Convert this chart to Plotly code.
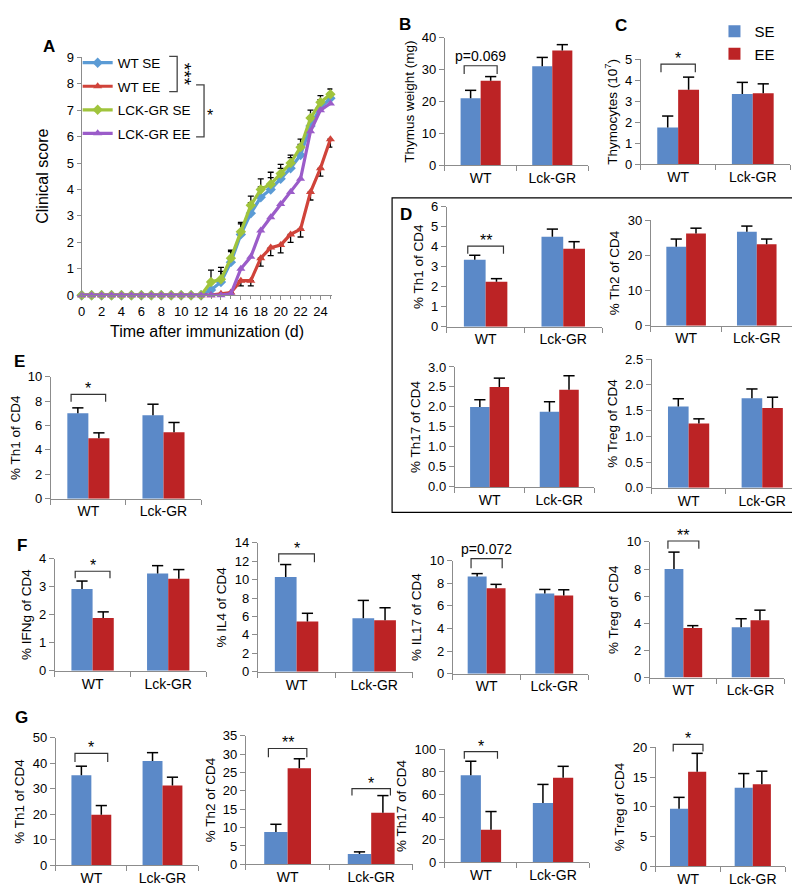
import plotly.graph_objects as go

# ---------------- DATA ----------------
days = list(range(26))
wt_se = [0] * 13 + [0.2, 0.5, 1.25, 2.3, 3.1, 3.7, 4.0, 4.4, 4.8, 5.3, 6.4, 7.1, 7.45]
wt_se_err = [0] * 13 + [0.3, 0.4, 0.4, 0.4, 0.4, 0.4, 0.45, 0.4, 0.4, 0.4, 0.35, 0.3, 0.2]
wt_ee = [0] * 14 + [0.05, 0.1, 0.55, 0.55, 1.4, 1.8, 1.9, 2.3, 2.5, 3.9, 4.8, 5.9]
wt_ee_err = [0] * 14 + [0.05, 0.1, 0.2, 0.2, 0.3, 0.3, 0.3, 0.3, 0.3, 0.3, 0.3, 0.3]
lck_se = [0] * 13 + [0.5, 0.6, 1.4, 2.4, 3.4, 4.0, 4.2, 4.6, 5.0, 5.6, 6.7, 7.3, 7.6]
lck_se_err = [0] * 13 + [0.45, 0.45, 0.3, 0.35, 0.35, 0.4, 0.45, 0.35, 0.3, 0.3, 0.3, 0.25, 0.2]
lck_ee = [0] * 15 + [0.05, 1.0, 1.45, 2.45, 2.95, 3.45, 3.9, 4.4, 6.2, 7.0, 7.25]

groups = ["WT", "Lck-GR"]

thymus_se, thymus_se_err = [21.0, 31.0], [2.5, 2.8]
thymus_ee, thymus_ee_err = [26.5, 36.0], [1.3, 1.8]
thymocytes_se, thymocytes_se_err = [1.75, 3.35], [0.55, 0.55]
thymocytes_ee, thymocytes_ee_err = [3.55, 3.38], [0.6, 0.45]
d_th1_se, d_th1_se_err = [3.35, 4.5], [0.22, 0.38]
d_th1_ee, d_th1_ee_err = [2.25, 3.9], [0.15, 0.35]
d_th2_se, d_th2_se_err = [22.5, 26.8], [2.2, 1.6]
d_th2_ee, d_th2_ee_err = [26.3, 23.2], [1.5, 1.5]
d_th17_se, d_th17_se_err = [2.0, 1.88], [0.18, 0.25]
d_th17_ee, d_th17_ee_err = [2.5, 2.43], [0.22, 0.35]
d_treg_se, d_treg_se_err = [1.58, 1.74], [0.15, 0.18]
d_treg_ee, d_treg_ee_err = [1.25, 1.55], [0.09, 0.21]
e_th1_se, e_th1_se_err = [7.0, 6.85], [0.45, 0.9]
e_th1_ee, e_th1_ee_err = [4.95, 5.45], [0.45, 0.8]
f_ifng_se, f_ifng_se_err = [2.92, 3.47], [0.28, 0.28]
f_ifng_ee, f_ifng_ee_err = [1.88, 3.28], [0.22, 0.33]
f_il4_se, f_il4_se_err = [10.3, 5.8], [1.35, 1.95]
f_il4_ee, f_il4_ee_err = [5.45, 5.6], [0.9, 1.35]
f_il17_se, f_il17_se_err = [8.6, 7.1], [0.25, 0.35]
f_il17_ee, f_il17_ee_err = [7.55, 6.92], [0.35, 0.5]
f_treg_se, f_treg_se_err = [8.0, 3.72], [1.25, 0.62]
f_treg_ee, f_treg_ee_err = [3.65, 4.22], [0.18, 0.75]
g_th1_se, g_th1_se_err = [35.3, 40.8], [3.5, 3.3]
g_th1_ee, g_th1_ee_err = [19.8, 31.2], [3.6, 3.3]
g_th2_se, g_th2_se_err = [8.8, 2.8], [2.1, 0.6]
g_th2_ee, g_th2_ee_err = [26.1, 14.0], [2.6, 4.7]
g_th17_se, g_th17_se_err = [77.0, 52.5], [12.5, 16.5]
g_th17_ee, g_th17_ee_err = [29.0, 75.0], [16.0, 10.0]
g_treg_se, g_treg_se_err = [9.7, 13.2], [1.9, 2.4]
g_treg_ee, g_treg_ee_err = [15.9, 13.8], [3.1, 2.2]

# ---------------- STYLE / LAYOUT ----------------
W, H = 800, 887
FONT = "Liberation Sans, Arial, sans-serif"
AXIS = "#8C8C8C"
BAR_BLUE = "#5B89C8"
BAR_RED = "#BC2325"
L_BLUE = "#5B9BD5"
L_RED = "#D0433A"
L_GREEN = "#A0C43C"
L_PURPLE = "#9B5CC9"
BW = 0.28


def px_x(p):
    return p / W


def px_y(p):
    return 1 - p / H


panels = {
    2: dict(x=(435, 579), y=(23, 153), ymax=40, dtick=10, title="Thymus weight (mg)",
            data=(thymus_se, thymus_se_err, thymus_ee, thymus_ee_err)),
    3: dict(x=(632, 782), y=(45, 152), ymax=5, dtick=1, title="Thymocytes (10<sup>7</sup>)",
            data=(thymocytes_se, thymocytes_se_err, thymocytes_ee, thymocytes_ee_err)),
    4: dict(x=(437, 593), y=(195, 317), ymax=6, dtick=1, title="% Th1 of CD4",
            data=(d_th1_se, d_th1_se_err, d_th1_ee, d_th1_ee_err)),
    5: dict(x=(642, 784), y=(209, 316), ymax=30, dtick=10, title="% Th2 of CD4",
            data=(d_th2_se, d_th2_se_err, d_th2_ee, d_th2_ee_err)),
    6: dict(x=(445, 585), y=(358, 480), ymax=3, dtick=0.5, fmt=".1f", title="% Th17 of CD4",
            data=(d_th17_se, d_th17_se_err, d_th17_ee, d_th17_ee_err)),
    7: dict(x=(643, 791), y=(350, 481), ymax=2.5, dtick=0.5, fmt=".1f", title="% Treg of CD4",
            data=(d_treg_se, d_treg_se_err, d_treg_ee, d_treg_ee_err)),
    8: dict(x=(39, 190), y=(368, 492), ymax=10, dtick=2, title="% Th1 of CD4",
            data=(e_th1_se, e_th1_se_err, e_th1_ee, e_th1_ee_err)),
    9: dict(x=(43, 195), y=(553, 667), ymax=4, dtick=1, title="% IFNg of CD4",
            data=(f_ifng_se, f_ifng_se_err, f_ifng_ee, f_ifng_ee_err)),
    10: dict(x=(247, 403), y=(537, 668), ymax=14, dtick=2, title="% IL4 of CD4",
             data=(f_il4_se, f_il4_se_err, f_il4_ee, f_il4_ee_err)),
    11: dict(x=(443, 579), y=(555, 670), ymax=10, dtick=2, title="% IL17 of CD4",
             data=(f_il17_se, f_il17_se_err, f_il17_ee, f_il17_ee_err)),
    12: dict(x=(641, 776), y=(536, 674), ymax=10, dtick=2, title="% Treg of CD4",
             data=(f_treg_se, f_treg_se_err, f_treg_ee, f_treg_ee_err)),
    13: dict(x=(44, 187), y=(735, 865), ymax=50, dtick=10, title="% Th1 of CD4",
             data=(g_th1_se, g_th1_se_err, g_th1_ee, g_th1_ee_err)),
    14: dict(x=(235, 403), y=(733, 864), ymax=35, dtick=5, title="% Th2 of CD4",
             data=(g_th2_se, g_th2_se_err, g_th2_ee, g_th2_ee_err)),
    15: dict(x=(435, 580), y=(747, 862), ymax=100, dtick=20, title="% Th17 of CD4",
             data=(g_th17_se, g_th17_se_err, g_th17_ee, g_th17_ee_err)),
    16: dict(x=(647, 777), y=(745, 866), ymax=20, dtick=5, title="% Treg of CD4",
             data=(g_treg_se, g_treg_se_err, g_treg_ee, g_treg_ee_err)),
}

# significance brackets: (panel, group index, bar level, leg level, label)
brackets = [
    (2, 0, 31.2, 28.6, "p=0.069"),
    (3, 0, 4.77, 4.38, "*"),
    (4, 0, 4.03, 3.65, "**"),
    (8, 0, 8.55, 7.96, "*"),
    (9, 0, 3.55, 3.3, "*"),
    (10, 0, 12.8, 11.9, "*"),
    (11, 0, 10.17, 9.33, "p=0.072"),
    (12, 0, 10.07, 9.5, "**"),
    (13, 0, 43.8, 40.4, "*"),
    (14, 0, 31.5, 29.1, "**"),
    (14, 1, 20.6, 18.7, "*"),
    (15, 0, 98.0, 91.6, "*"),
    (16, 0, 20.5, 19.3, "*"),
]

fig = go.Figure()
layout = dict(
    width=W, height=H, margin=dict(l=0, r=0, t=0, b=0),
    paper_bgcolor="white", plot_bgcolor="white",
    font=dict(family=FONT, color="black", size=13),
    barmode="overlay", showlegend=True,
    shapes=[], annotations=[],
)

# ---------------- PANEL A ----------------
line_series = [
    ("WT SE", wt_se, wt_se_err, None, L_BLUE, "diamond"),
    ("WT EE", wt_ee, None, wt_ee_err, L_RED, "triangle-up"),
    ("LCK-GR SE", lck_se, lck_se_err, None, L_GREEN, "diamond"),
    ("LCK-GR EE", lck_ee, None, None, L_PURPLE, "triangle-up"),
]
for name, vals, up, down, col, sym in line_series:
    zeros = [0] * len(vals)
    err = None
    if up is not None or down is not None:
        err = dict(type="data", symmetric=False,
                   array=up if up is not None else zeros,
                   arrayminus=down if down is not None else zeros,
                   color="black", thickness=1.3, width=3)
    fig.add_trace(go.Scatter(
        x=days, y=vals, name=name, mode="lines+markers", legendgroup=name,
        line=dict(color=col, width=3.2),
        marker=dict(symbol=sym, size=8, color=col),
        error_y=err, xaxis="x", yaxis="y", legend="legend", cliponaxis=False,
    ))

layout["xaxis"] = dict(
    domain=[px_x(70), px_x(322)], range=[0, 25.2], anchor="y",
    showline=True, linecolor=AXIS, linewidth=1, showgrid=False, zeroline=False,
    tickmode="linear", tick0=0, dtick=2, ticks="outside", ticklen=4, tickcolor=AXIS,
    minor=dict(dtick=1, ticks="outside", ticklen=3, tickcolor=AXIS),
    tickfont=dict(size=13),
    title=dict(text="Time after immunization (d)", font=dict(size=16), standoff=8),
)
layout["yaxis"] = dict(
    domain=[px_y(285), px_y(43)], range=[0, 9], anchor="x",
    showline=True, linecolor=AXIS, linewidth=1, showgrid=False, zeroline=False,
    tickmode="linear", tick0=0, dtick=1, ticks="outside", ticklen=4, tickcolor=AXIS,
    tickfont=dict(size=13),
    title=dict(text="Clinical score", font=dict(size=16), standoff=14),
)
layout["legend"] = dict(
    x=px_x(66), y=px_y(33), xanchor="left", yanchor="top",
    font=dict(size=13.5), bgcolor="rgba(0,0,0,0)", itemwidth=30, tracegroupgap=3,
)

# brackets in panel A (paper coordinates)
def bracket_v(xv, xl, yt, yb):
    return dict(type="path", xref="paper", yref="paper",
                path=f"M {px_x(xl)},{px_y(yt)} L {px_x(xv)},{px_y(yt)} "
                     f"L {px_x(xv)},{px_y(yb)} L {px_x(xl)},{px_y(yb)}",
                line=dict(color="#444", width=1.3))

layout["shapes"].append(bracket_v(166, 158, 42, 78))
layout["shapes"].append(bracket_v(193, 185, 71, 124))
layout["annotations"].append(dict(text="***", x=px_x(173), y=px_y(60), xref="paper", yref="paper",
                                  xanchor="center", yanchor="middle", textangle=90,
                                  showarrow=False, font=dict(size=19)))
layout["annotations"].append(dict(text="*", x=px_x(199), y=px_y(102), xref="paper", yref="paper",
                                  xanchor="center", yanchor="middle",
                                  showarrow=False, font=dict(size=16)))

# ---------------- BAR PANELS ----------------
idx = list(range(len(groups)))
first = True
for n, p in panels.items():
    xa, ya = f"x{n}", f"y{n}"
    se, se_err, ee, ee_err = p["data"]
    xs_se = [i - BW / 2 for i in idx]
    xs_ee = [i + BW / 2 for i in idx]
    fig.add_trace(go.Bar(x=xs_se, y=se, width=BW, name="SE", marker=dict(color=BAR_BLUE, line=dict(width=0)),
                         xaxis=xa, yaxis=ya, legend="legend2", showlegend=first))
    fig.add_trace(go.Bar(x=xs_ee, y=ee, width=BW, name="EE", marker=dict(color=BAR_RED, line=dict(width=0)),
                         xaxis=xa, yaxis=ya, legend="legend2", showlegend=first))
    first = False
    ex, ey, cx, cy = [], [], [], []
    for xs, v, e in ((xs_se, se, se_err), (xs_ee, ee, ee_err)):
        for xi, vi, ei in zip(xs, v, e):
            ex += [xi, xi, None]
            ey += [vi, vi + ei, None]
            cx.append(xi)
            cy.append(vi + ei)
    fig.add_trace(go.Scatter(x=ex, y=ey, mode="lines", line=dict(color="black", width=1.5),
                             xaxis=xa, yaxis=ya, showlegend=False, hoverinfo="skip", cliponaxis=False))
    fig.add_trace(go.Scatter(x=cx, y=cy, mode="markers",
                             marker=dict(symbol="line-ew", size=8, line=dict(width=1.5, color="black")),
                             xaxis=xa, yaxis=ya, showlegend=False, hoverinfo="skip", cliponaxis=False))

    bounds = [i - 0.5 for i in idx] + [idx[-1] + 0.5]
    layout[f"xaxis{n}"] = dict(
        domain=[px_x(p["x"][0]), px_x(p["x"][1])], range=[bounds[0], bounds[-1]], anchor=ya,
        showline=True, linecolor=AXIS, linewidth=1, showgrid=False, zeroline=False,
        tickmode="array", tickvals=idx, ticktext=groups, ticks="",
        minor=dict(tickmode="array", tickvals=bounds, ticks="outside", ticklen=5, tickcolor=AXIS, showgrid=False),
        tickfont=dict(size=14),
    )
    layout[f"yaxis{n}"] = dict(
        domain=[px_y(p["y"][1]), px_y(p["y"][0])], range=[0, p["ymax"]], anchor=xa,
        showline=True, linecolor=AXIS, linewidth=1, showgrid=False, zeroline=False,
        tickmode="linear", tick0=0, dtick=p["dtick"], ticks="outside", ticklen=5, tickcolor=AXIS,
        tickformat=p.get("fmt", ""), tickfont=dict(size=13),
        title=dict(text=p["title"], font=dict(size=13.5), standoff=4),
    )


def val_to_paper(n, v):
    p = panels[n]
    y0, y1 = px_y(p["y"][1]), px_y(p["y"][0])
    return y0 + v / p["ymax"] * (y1 - y0)


for n, g, lvl, leg, label in brackets:
    xl, xr = g - 0.23, g + 0.23
    yb, yl = val_to_paper(n, lvl), val_to_paper(n, leg)
    layout["shapes"].append(dict(type="path", xref=f"x{n}", yref="paper",
                                 path=f"M {xl},{yl} L {xl},{yb} L {xr},{yb} L {xr},{yl}",
                                 line=dict(color="#333", width=1.2)))
    star = label.startswith("*")
    layout["annotations"].append(dict(text=label, x=g, y=yb, xref=f"x{n}", yref="paper",
                                      xanchor="center", yanchor="bottom", showarrow=False,
                                      yshift=-5 if star else 0,
                                      font=dict(size=16 if star else 14)))

layout["legend2"] = dict(x=px_x(706), y=px_y(0), xanchor="left", yanchor="top",
                         font=dict(size=15), bgcolor="rgba(0,0,0,0)", tracegroupgap=0)

# box around panel D
layout["shapes"].append(dict(type="rect", xref="paper", yref="paper",
                             x0=px_x(382), x1=px_x(797), y0=px_y(506), y1=px_y(186),
                             line=dict(color="black", width=1.2)))

# panel letters
for letter, (lx, ly) in {"A": (37, 32), "B": (395, 10), "C": (612, 11), "D": (396, 203),
                         "E": (8, 352), "F": (10, 540), "G": (10, 715)}.items():
    layout["annotations"].append(dict(text=f"<b>{letter}</b>", x=px_x(lx), y=px_y(ly),
                                      xref="paper", yref="paper", xanchor="center", yanchor="middle",
                                      showarrow=False, font=dict(size=17)))

fig.update_layout(**layout)
fig.write_html("out.html")
